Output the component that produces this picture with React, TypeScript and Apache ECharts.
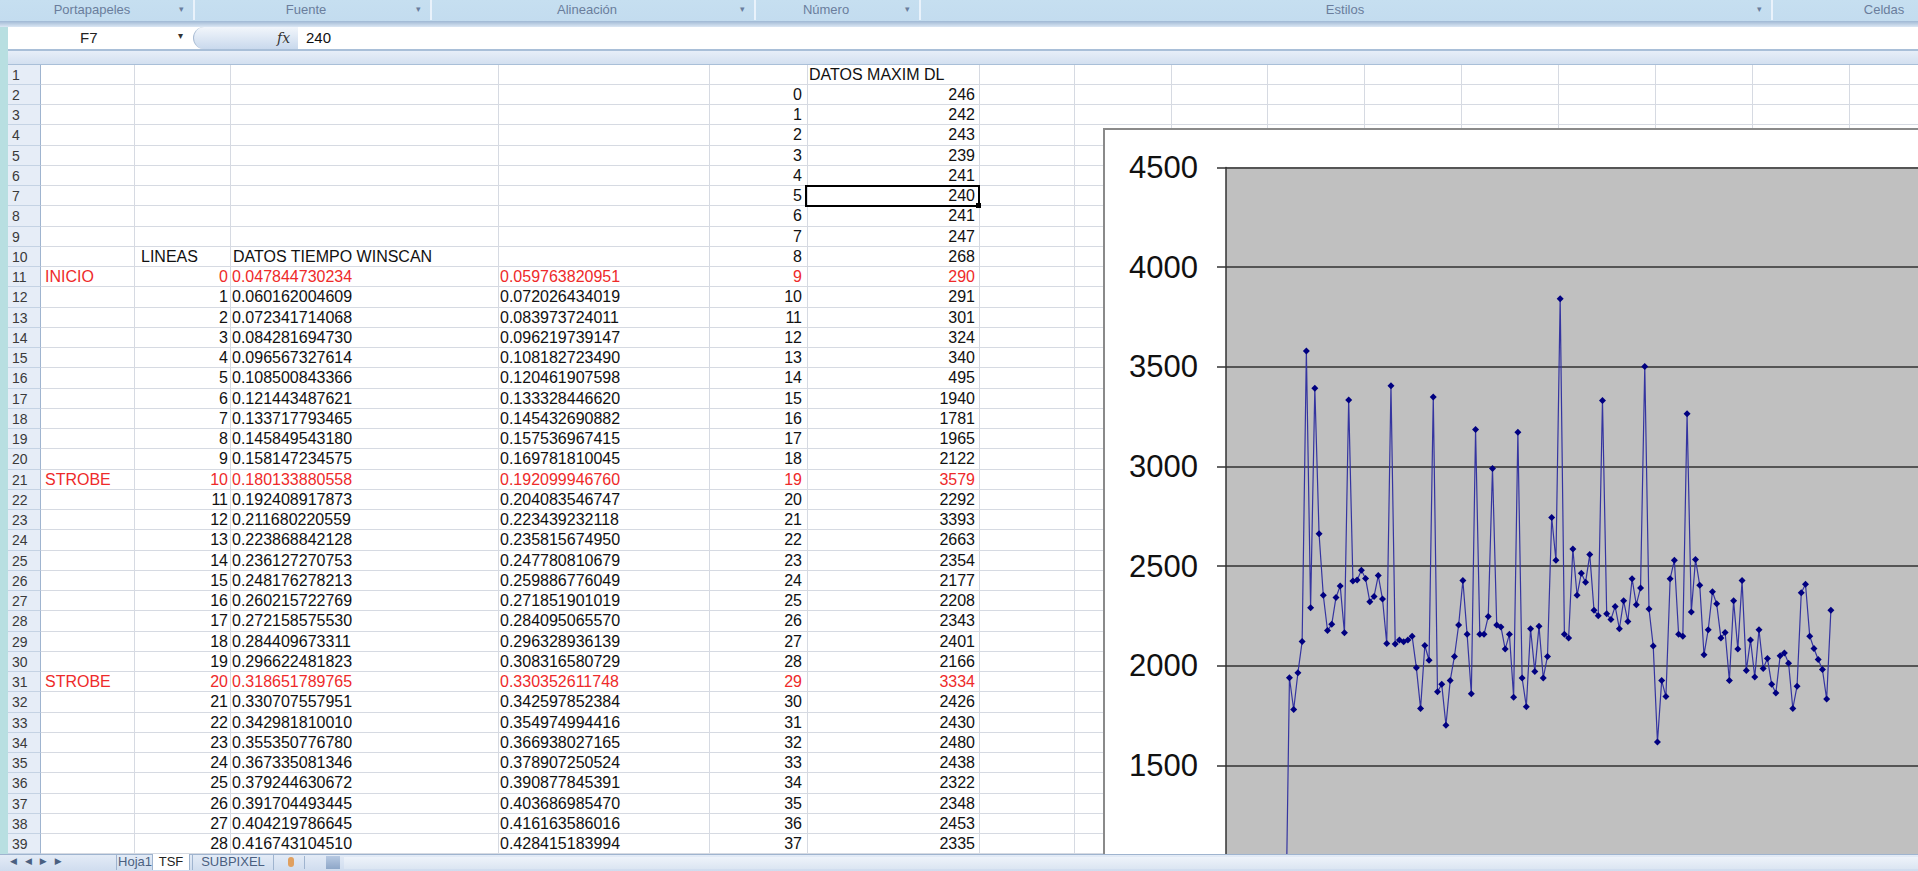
import React, { useEffect, useRef } from "react";
import * as echarts from "echarts";

// ---- DATA ----
// DATOS MAXIM DL (column F of the sheet; index = column E)
const MAXIM_DL: number[] = [
  246, 242, 243, 239, 241, 240, 241, 247, 268, 290,
  291, 301, 324, 340, 495, 1940, 1781, 1965, 2122, 3579,
  2292, 3393, 2663, 2354, 2177, 2208, 2343, 2401, 2166, 3334,
  2426, 2430, 2480, 2438, 2322, 2348, 2453, 2335, 2112, 3405,
  2110, 2130, 2121, 2130, 2149, 1991, 1786, 2102, 2028, 3349,
  1870, 1907, 1702, 1926, 2047, 2205, 2428, 2158, 1860, 3185,
  2158, 2158, 2248, 2990, 2205, 2195, 2084, 2158, 1842, 3172,
  1939, 1795, 2186, 1972, 2199, 1939, 2047, 2744, 2530, 3842,
  2158, 2140, 2586, 2354, 2465, 2419, 2558, 2279, 2251, 3331,
  2261, 2233, 2298, 2186, 2326, 2223, 2437, 2307, 2391, 3502,
  2285, 2099, 1618, 1926, 1846, 2437, 2530, 2158, 2149, 3265,
  2270, 2534, 2404, 2056, 2181, 2372, 2311, 2140, 2167, 1926,
  2326, 2084, 2428, 1976, 2130, 1944, 2181, 1987, 2037, 1907,
  1864, 2050, 2065, 2013, 1786, 1898, 2367, 2409, 2149, 2087,
  2032, 1981, 1833, 2279,
];

const Y_TICKS_MIN = 0;
const Y_TICKS_MAX = 4500;
const Y_TICK_STEP = 500;
const X_AXIS_MAX = 200;

// DATOS TIEMPO WINSCAN (columns C and D), LINEAS (column B)
const TIEMPO_C: string[] = [
  "0.047844730234", "0.060162004609", "0.072341714068", "0.084281694730",
  "0.096567327614", "0.108500843366", "0.121443487621", "0.133717793465",
  "0.145849543180", "0.158147234575", "0.180133880558", "0.192408917873",
  "0.211680220559", "0.223868842128", "0.236127270753", "0.248176278213",
  "0.260215722769", "0.272158575530", "0.284409673311", "0.296622481823",
  "0.318651789765", "0.330707557951", "0.342981810010", "0.355350776780",
  "0.367335081346", "0.379244630672", "0.391704493445", "0.404219786645",
  "0.416743104510",
];
const TIEMPO_D: string[] = [
  "0.059763820951", "0.072026434019", "0.083973724011", "0.096219739147",
  "0.108182723490", "0.120461907598", "0.133328446620", "0.145432690882",
  "0.157536967415", "0.169781810045", "0.192099946760", "0.204083546747",
  "0.223439232118", "0.235815674950", "0.247780810679", "0.259886776049",
  "0.271851901019", "0.284095065570", "0.296328936139", "0.308316580729",
  "0.330352611748", "0.342597852384", "0.354974994416", "0.366938027165",
  "0.378907250524", "0.390877845391", "0.403686985470", "0.416163586016",
  "0.428415183994",
];
const MARKERS: { row: number; label: string }[] = [
  { row: 11, label: "INICIO" },
  { row: 21, label: "STROBE" },
  { row: 31, label: "STROBE" },
];
const RIBBON_GROUPS: { name: string; cx: number }[] = [
  { name: "Portapapeles", cx: 92 },
  { name: "Fuente", cx: 306 },
  { name: "Alineación", cx: 587 },
  { name: "Número", cx: 826 },
  { name: "Estilos", cx: 1345 },
  { name: "Celdas", cx: 1884 },
];
const SHEET_TABS = ["Hoja1", "TSF", "SUBPIXEL"];

// ---- LAYOUT ----
const ROW_TOP = 64.5;
const ROW_H = 20.25;
const N_ROWS = 39;
const COL_X = [41, 134, 230, 498, 709, 807, 979, 1074, 1171, 1267, 1364, 1461, 1558, 1655, 1752, 1849];
const GRID_COLOR = "#d6dae2";
const FONT = '"Liberation Sans", Arial, sans-serif';
const RED = "#ee2a2a";

function rowTop(r: number) {
  return ROW_TOP + (r - 1) * ROW_H;
}

function Cell(props: { row: number; x: number; align: "left" | "right"; text: string; color?: string }) {
  const { row, x, align, text, color } = props;
  const style: React.CSSProperties = {
    position: "absolute",
    top: rowTop(row),
    height: ROW_H,
    lineHeight: ROW_H + "px",
    fontSize: 16,
    color: color || "#111",
    whiteSpace: "nowrap",
    fontFamily: FONT,
  };
  if (align === "left") style.left = x;
  else style.right = 1918 - x;
  return <div style={style}>{text}</div>;
}

function Chart() {
  const ref = useRef<HTMLDivElement>(null);
  useEffect(() => {
    if (!ref.current) return;
    const chart = echarts.init(ref.current, undefined, { renderer: "svg" });
    chart.setOption({
      animation: false,
      backgroundColor: "#ffffff",
      grid: {
        left: 121,
        top: 37.5,
        width: 846,
        height: 897,
        show: true,
        backgroundColor: "#c0c0c0",
        borderWidth: 0,
      },
      xAxis: { type: "value", min: 0, max: X_AXIS_MAX, show: false },
      yAxis: {
        type: "value",
        min: Y_TICKS_MIN,
        max: Y_TICKS_MAX,
        interval: Y_TICK_STEP,
        axisLine: { show: true, lineStyle: { color: "#333", width: 1.5 } },
        axisTick: { show: true, length: 9, lineStyle: { color: "#333", width: 1.5 } },
        axisLabel: {
          fontSize: 31,
          color: "#111",
          fontFamily: FONT,
          margin: 28,
          formatter: (v: number) => String(v),
        },
        splitLine: { show: true, lineStyle: { color: "#555", width: 2 } },
      },
      series: [
        {
          type: "line",
          data: MAXIM_DL.map((v, i) => [i, v]),
          symbol: "diamond",
          symbolSize: 7,
          showAllSymbol: true,
          lineStyle: { color: "#3434a0", width: 1.2 },
          itemStyle: { color: "#000080" },
          clip: true,
        },
      ],
    });
    return () => chart.dispose();
  }, []);
  return <div ref={ref} style={{ width: 996, height: 1000 }} />;
}

export default function App() {
  const rows = Array.from({ length: N_ROWS }, (_, i) => i + 1);
  const sheetF = MAXIM_DL.slice(0, N_ROWS - 1);
  return (
    <div
      style={{
        position: "fixed",
        left: 0,
        top: 0,
        width: 1918,
        height: 871,
        overflow: "hidden",
        background: "#ffffff",
        fontFamily: FONT,
      }}
    >
      {/* ribbon group label bar */}
      <div
        style={{
          position: "absolute", left: 0, top: 0, width: 1918, height: 21,
          background: "linear-gradient(#c6dff0, #c3dcef)",
          overflow: "hidden",
        }}
      >
        {RIBBON_GROUPS.map((g) => (
          <div
            key={g.name}
            style={{
              position: "absolute", top: 2, left: g.cx - 60, width: 120, textAlign: "center",
              fontSize: 13, lineHeight: "16px", color: "#6a7d9c",
            }}
          >
            {g.name}
          </div>
        ))}
        {[183, 420, 744, 909, 1761].map((x) => (
          <React.Fragment key={x}>
            <div style={{ position: "absolute", left: x - 4, top: 4, fontSize: 9, color: "#6a7d9c", fontFamily: '"DejaVu Sans"' }}>▾</div>
            <div style={{ position: "absolute", left: x + 10, top: 0, width: 2, height: 20, background: "#e9f2fb" }} />
          </React.Fragment>
        ))}
      </div>
      <div style={{ position: "absolute", left: 0, top: 21, width: 1918, height: 6, background: "linear-gradient(#9fb8d4, #dbe7f4)" }} />
      {/* formula bar */}
      <div style={{ position: "absolute", left: 0, top: 27, width: 1918, height: 22, background: "#ffffff" }} />
      <div style={{ position: "absolute", left: 0, top: 27, width: 8, height: 840, background: "#b8dfe1" }} />
      <div style={{ position: "absolute", left: 80, top: 27, height: 22, lineHeight: "22px", fontSize: 15, color: "#222" }}>F7</div>
      <div style={{ position: "absolute", left: 178, top: 30, fontSize: 10, color: "#333", fontFamily: '"DejaVu Sans"' }}>▾</div>
      <div
        style={{
          position: "absolute", left: 193, top: 27, width: 104, height: 22,
          borderRadius: "11px 0 0 11px",
          background: "linear-gradient(#f2f6fb, #c9d9ed)",
          borderLeft: "1px solid #a8bbd3",
        }}
      />
      <div style={{ position: "absolute", left: 277, top: 27, height: 22, lineHeight: "22px", fontSize: 14, fontStyle: "italic", fontFamily: '"DejaVu Serif", serif', color: "#333" }}>fx</div>
      <div style={{ position: "absolute", left: 306, top: 27, height: 22, lineHeight: "22px", fontSize: 15, color: "#111" }}>240</div>
      {/* column header band */}
      <div style={{ position: "absolute", left: 8, top: 49, width: 1910, height: 2, background: "#a9bfd8" }} />
      <div style={{ position: "absolute", left: 8, top: 51, width: 1910, height: 13.5, background: "linear-gradient(#e7eef8, #d3e0f0)", borderBottom: "1px solid #a9bfd8", boxSizing: "border-box" }} />

      {/* grid rows */}
      {rows.map((r) => (
        <React.Fragment key={r}>
          <div
            style={{
              position: "absolute", left: COL_X[0], top: rowTop(r), width: 1918 - COL_X[0], height: ROW_H,
              borderBottom: `1px solid ${GRID_COLOR}`, boxSizing: "border-box",
            }}
          />
          <div
            style={{
              position: "absolute", left: 8, top: rowTop(r), width: COL_X[0] - 8, height: ROW_H,
              background: "#e6edf7", borderBottom: "1px solid #c5d3e4", borderRight: "1px solid #9fb4cf",
              boxSizing: "border-box", fontSize: 14, lineHeight: ROW_H + "px", paddingLeft: 4, color: "#3a3a3a",
            }}
          >
            {r}
          </div>
        </React.Fragment>
      ))}
      {COL_X.slice(1).map((x) => (
        <div key={x} style={{ position: "absolute", left: x, top: ROW_TOP, width: 1, height: N_ROWS * ROW_H, background: GRID_COLOR }} />
      ))}

      {/* cell texts */}
      <Cell row={1} x={809} align="left" text="DATOS MAXIM DL" />
      {sheetF.map((v, i) => {
        const row = i + 2;
        const red = MARKERS.some((m) => m.row === row);
        return (
          <React.Fragment key={"f" + i}>
            <Cell row={row} x={802} align="right" text={String(i)} color={red ? RED : undefined} />
            <Cell row={row} x={975} align="right" text={String(v)} color={red ? RED : undefined} />
          </React.Fragment>
        );
      })}
      <Cell row={10} x={141} align="left" text="LINEAS" />
      <Cell row={10} x={233} align="left" text="DATOS TIEMPO WINSCAN" />
      {TIEMPO_C.map((t, i) => {
        const row = i + 11;
        const red = MARKERS.some((m) => m.row === row);
        return (
          <React.Fragment key={"c" + i}>
            <Cell row={row} x={228} align="right" text={String(i)} color={red ? RED : undefined} />
            <Cell row={row} x={232} align="left" text={t} color={red ? RED : undefined} />
            <Cell row={row} x={500} align="left" text={TIEMPO_D[i]} color={red ? RED : undefined} />
          </React.Fragment>
        );
      })}
      {MARKERS.map((m) => (
        <Cell key={"m" + m.row} row={m.row} x={45} align="left" text={m.label} color={RED} />
      ))}
      {/* selected cell F7 */}
      <div
        style={{
          position: "absolute", left: 805, top: rowTop(7) - 1, width: 175, height: ROW_H + 2,
          border: "2px solid #000", boxSizing: "border-box",
        }}
      />
      <div style={{ position: "absolute", left: 976, top: rowTop(8) - 3, width: 5, height: 5, background: "#000" }} />

      {/* chart object */}
      <div
        style={{
          position: "absolute", left: 1103, top: 128, width: 1000, height: 1000,
          border: "2px solid #8a8a8a", background: "#fff", overflow: "hidden", zIndex: 5,
        }}
      >
        <Chart />
      </div>

      {/* sheet tab bar */}
      <div
        style={{
          position: "absolute", left: 0, top: 854, width: 1918, height: 17,
          background: "linear-gradient(#e3ebf6, #cfdcee)", borderTop: "1px solid #9fb4cf", zIndex: 6,
          boxSizing: "border-box",
        }}
      >
        <div style={{ position: "absolute", left: 10, top: 1, fontSize: 9, color: "#4a5f80", letterSpacing: 8, fontFamily: '"DejaVu Sans"' }}>◀◀▶▶</div>
        {SHEET_TABS.map((t, i) => {
          const lefts = [116, 152, 192];
          const widths = [36, 36, 80];
          const active = t === "TSF";
          return (
            <div
              key={t}
              style={{
                position: "absolute", left: lefts[i], top: -1, width: widths[i], height: 16,
                background: active ? "#ffffff" : "transparent",
                borderLeft: "1px solid #9fb4cf", borderRight: "1px solid #9fb4cf",
                fontSize: 13, lineHeight: "15px", textAlign: "center",
                color: active ? "#222" : "#4a5f80",
              }}
            >
              {t}
            </div>
          );
        })}
        <div style={{ position: "absolute", left: 280, top: 1, width: 24, height: 13, borderRight: "1px solid #9fb4cf" }}>
          <div style={{ position: "absolute", left: 8, top: 1, width: 6, height: 10, background: "#e0a060", borderRadius: 3 }} />
        </div>
        <div style={{ position: "absolute", left: 326, top: 1, width: 14, height: 13, background: "linear-gradient(#b7c9e2, #8ea7c8)" }} />
        <div style={{ position: "absolute", left: 344, top: 2, width: 1574, height: 12, background: "linear-gradient(#eef3fa, #dbe5f2)" }} />
      </div>
    </div>
  );
}
